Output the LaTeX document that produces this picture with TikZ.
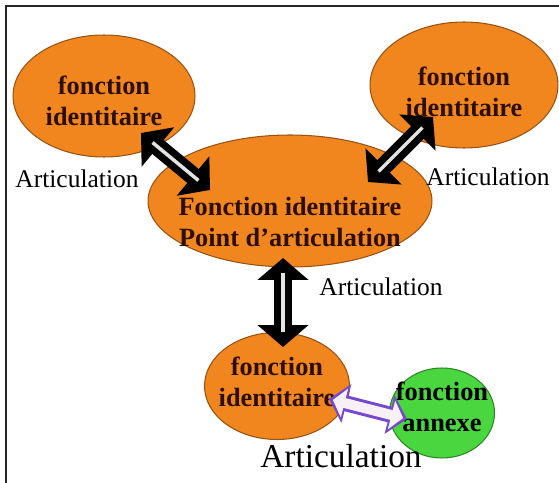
\documentclass[tikz,border=0pt]{standalone}
\usepackage{fontspec}
\setmainfont{Liberation Serif}
\usetikzlibrary{arrows.meta,shapes.geometric}

\definecolor{orangefc}{RGB}{242,134,30}
\definecolor{vertfc}{RGB}{74,214,62}
\definecolor{violetfc}{RGB}{118,72,206}
\definecolor{textefc}{RGB}{45,15,0}

\begin{document}
\begin{tikzpicture}[
    x=0.02cm, y=-0.02cm,
    bulle/.style={
        ellipse,
        draw=#1!62!black,
        fill=#1,
        line width=0.6pt
    },
    txt/.style={
        align=center,
        text=textefc,
        font=\fontsize{15}{17.5}\selectfont\bfseries
    },
    etiquette/.style={font=\fontsize{14.5}{16}\selectfont},
    fleche/.style={
        line width=0.36cm,
        black,
        {Triangle[width=1cm,length=0.44cm]}-{Triangle[width=1cm,length=0.44cm]},
        postaction={draw=gray!22, line width=2pt, -, shorten <=0.3cm, shorten >=0.3cm}
    },
    lien/.style={
        line width=0.32cm,
        violetfc,
        {Triangle[width=0.78cm,length=0.36cm]}-{Triangle[width=0.78cm,length=0.36cm]},
        postaction={draw=violet!6, line width=0.2cm,
            {Triangle[width=0.58cm,length=0.24cm]}-{Triangle[width=0.58cm,length=0.24cm]},
            shorten <=0.08cm, shorten >=0.08cm}
    }
]

\useasboundingbox (0,0) rectangle (559,483);
\draw[line width=1pt, black!85] (6,483) -- (6,6) -- (559,6);

\node[bulle=orangefc, minimum width=3.64cm, minimum height=2.44cm,
    label={[txt, yshift=-0.1cm]center:fonction\\identitaire}] (gauche) at (104,96) {};
\node[bulle=orangefc, minimum width=3.76cm, minimum height=2.52cm,
    label={[txt, yshift=-0.14cm]center:fonction\\identitaire}] (droite) at (464,85) {};
\node[bulle=orangefc, minimum width=5.68cm, minimum height=2.64cm,
    label={[txt, yshift=-0.42cm]center:Fonction identitaire\\Point d’articulation}] (centre) at (290,201) {};
\node[bulle=orangefc, minimum width=2.9cm, minimum height=2.14cm,
    label={[txt, yshift=0.08cm]center:fonction\\identitaire}] (bas) at (277,386) {};
\node[bulle=vertfc, minimum width=2.1cm, minimum height=1.8cm,
    label={[txt, text=black, yshift=0.12cm]center:fonction\\annexe}] (annexe) at (442,413) {};

\draw[fleche] ([shift={(37,37)}]gauche.center) -- ([shift={(-80,-11)}]centre.center);
\draw[fleche] ([shift={(-31,32)}]droite.center) -- ([shift={(78,-19)}]centre.center);
\draw[fleche] ([shift={(-7,57)}]centre.center) -- ([shift={(6,-39)}]bas.center);
\draw[lien] ([shift={(52,13)}]bas.center) -- ([shift={(-35,6)}]annexe.center);

\node[etiquette] (artgauche) at (77,179) {Articulation};
\node[etiquette] (artdroite) at (488,177) {Articulation};
\node[etiquette] (artcentre) at (381,287) {Articulation};
\node[font=\fontsize{19}{21}\selectfont] (artbas) at (341,456) {Articulation};

\end{tikzpicture}
\end{document}
